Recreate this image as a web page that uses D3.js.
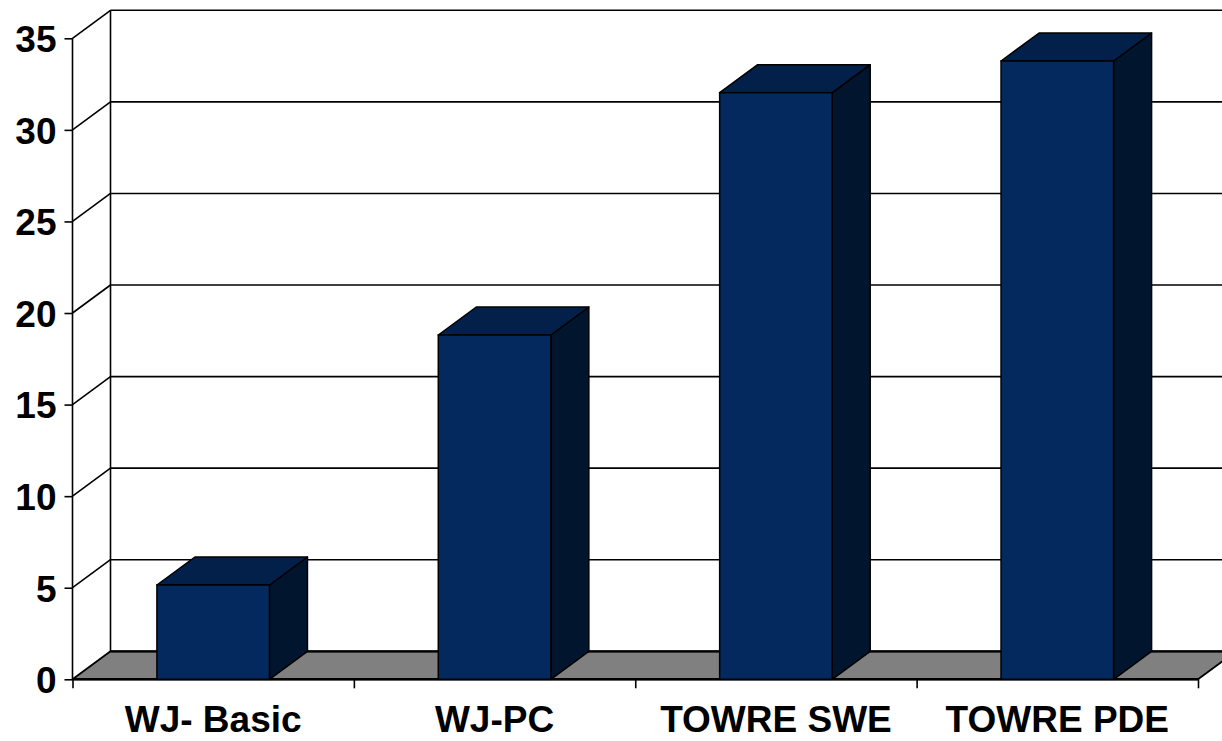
<!DOCTYPE html>
<html><head><meta charset="utf-8">
<script src="https://cdn.jsdelivr.net/npm/d3@7"></script>
<style>body{margin:0;background:#fff}svg{display:block}</style>
</head><body>
<svg id="c" width="1222" height="741"></svg>
<script>
const categories = ["WJ- Basic", "WJ-PC", "TOWRE SWE", "TOWRE PDE"];
const values = [5.15, 18.8, 32.03, 33.76];
const yTicks = [0, 5, 10, 15, 20, 25, 30, 35];

const W = 1222, H = 741;
const left = 72.5, right = 1198, y0 = 679.3, yTop = 38.3;
const dx = 38, dy = 28;
const svg = d3.select("#c");

const y = d3.scaleLinear().domain([0, 35]).range([y0, yTop]);
const x = d3.scaleBand().domain(categories).range([left, right]).paddingInner(0.6).paddingOuter(0.3);
const xb = d3.scaleLinear().domain([0, categories.length]).range([left, right]);

const g = svg.append("g");
// clip to canvas
// back wall gridlines
yTicks.forEach(t => {
  if (t === 0) return;
  g.append("line").attr("x1", left).attr("y1", y(t)).attr("x2", left + dx).attr("y2", y(t) - dy)
    .attr("stroke", "#000").attr("stroke-width", 1.6);
  g.append("line").attr("x1", left + dx).attr("y1", y(t) - dy).attr("x2", W).attr("y2", y(t) - dy)
    .attr("stroke", "#000").attr("stroke-width", 1.6);
});
// left-back vertical corner
g.append("line").attr("x1", left + dx).attr("y1", y(35) - dy).attr("x2", left + dx).attr("y2", y(0) - dy)
  .attr("stroke", "#000").attr("stroke-width", 1.6);

// floor
g.append("path")
  .attr("d", `M${left},${y0} L${right},${y0} L${right + dx},${y0 - dy} L${left + dx},${y0 - dy} Z`)
  .attr("fill", "#808080").attr("stroke", "#000").attr("stroke-width", 1.8).attr("stroke-linejoin", "round");
g.append("line").attr("x1", left).attr("y1", y0).attr("x2", right).attr("y2", y0)
  .attr("stroke", "#000").attr("stroke-width", 2.5);
g.append("line").attr("x1", left + dx).attr("y1", y0 - dy).attr("x2", W).attr("y2", y0 - dy)
  .attr("stroke", "#000").attr("stroke-width", 2.2);

// bars
const bars = g.selectAll("g.bar").data(categories.map((c, i) => ({c, v: values[i]}))).join("g").attr("class", "bar");
bars.each(function(d) {
  const s = d3.select(this);
  const xl = x(d.c), xr = xl + x.bandwidth(), yt = y(d.v);
  // side
  s.append("path").attr("d", `M${xr},${y0} L${xr + dx},${y0 - dy} L${xr + dx},${yt - dy} L${xr},${yt} Z`)
    .attr("fill", "#01152F").attr("stroke", "#000").attr("stroke-width", 1.5).attr("stroke-linejoin", "round");
  // top
  s.append("path").attr("d", `M${xl},${yt} L${xl + dx},${yt - dy} L${xr + dx},${yt - dy} L${xr},${yt} Z`)
    .attr("fill", "#02204A").attr("stroke", "#000").attr("stroke-width", 1.5).attr("stroke-linejoin", "round");
  // front
  s.append("rect").attr("x", xl).attr("y", yt).attr("width", x.bandwidth()).attr("height", y0 - yt)
    .attr("fill", "#03295F").attr("stroke", "#000").attr("stroke-width", 1.5);
});

// y axis
const yAxis = d3.axisLeft(y).tickValues(yTicks).tickSize(8).tickFormat(d3.format("d"));
const ya = svg.append("g").attr("transform", `translate(${left},0)`).call(yAxis);
ya.select(".domain").attr("stroke", "#000").attr("stroke-width", 1.6).attr("d", `M0,${y(35)}V${y0}`);
ya.selectAll(".tick line").attr("stroke", "#000").attr("stroke-width", 1.6);
ya.selectAll(".tick text").attr("x", -16).attr("dy", "0.36em")
  .attr("font-family", "Liberation Sans, Arial, sans-serif").attr("font-weight", "bold")
  .attr("font-size", 37).attr("fill", "#000");

// x axis boundary ticks
const xAxis = d3.axisBottom(xb).tickValues(d3.range(categories.length + 1)).tickSize(9).tickFormat("");
const xa = svg.append("g").attr("transform", `translate(0,${y0})`).call(xAxis);
xa.select(".domain").remove();
xa.selectAll(".tick line").attr("stroke", "#000").attr("stroke-width", 1.6);

// category labels
svg.append("g").selectAll("text").data(categories).join("text")
  .attr("x", d => x(d) + x.bandwidth() / 2).attr("y", 732)
  .attr("text-anchor", "middle")
  .attr("font-family", "Liberation Sans, Arial, sans-serif").attr("font-weight", "bold")
  .attr("font-size", 37).attr("fill", "#000").text(d => d);
</script>
</body></html>
